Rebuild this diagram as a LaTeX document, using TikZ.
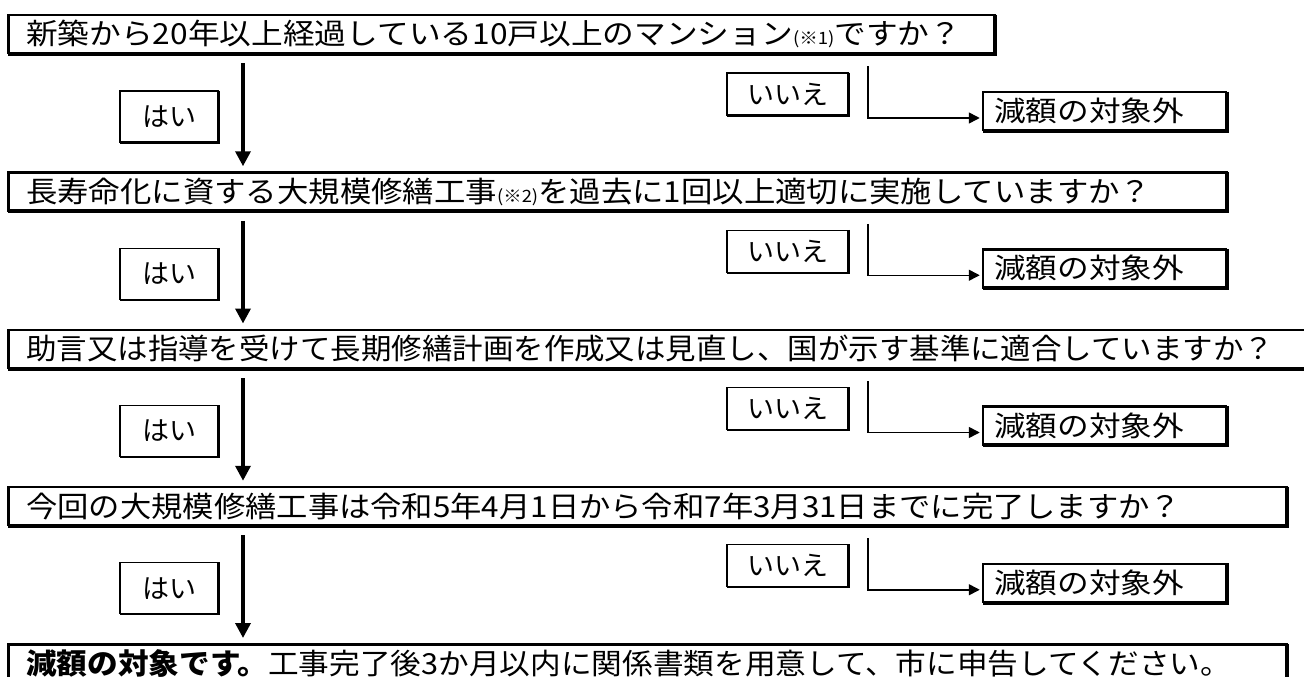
\documentclass[tikz,border=0pt]{standalone}
\usepackage{fontspec}
\setmainfont{Noto Sans CJK JP}
\usepackage{graphicx}
\usetikzlibrary{arrows.meta}
\tikzset{
  mainbox/.style={draw, line width=2.5pt, fill=white, rectangle, anchor=north west,
    minimum height=38pt, inner sep=0pt},
  maintext/.style={anchor=west, inner sep=0pt, font=\fontsize{29}{29}\selectfont},
  ansbox/.style={draw, line width=1.3pt, fill=white, rectangle, inner sep=0pt,
    font=\fontsize{27}{27}\selectfont},
  yesbox/.style={ansbox, minimum width=98pt, minimum height=51pt},
  nobox/.style={ansbox, minimum width=121pt, minimum height=42pt},
  outbox/.style={draw, line width=2.5pt, fill=white, rectangle, minimum width=243pt,
    minimum height=38pt, inner sep=0pt, font=\fontsize{28}{28}\selectfont},
  yesarrow/.style={line width=3.5pt, -{Triangle[length=15pt,width=15pt]},
    shorten <=9pt, shorten >=5pt},
  noline/.style={line width=1.5pt, -{Triangle[length=11pt,width=11pt]},
    shorten <=12pt, shorten >=2pt},
  shadowline/.style={line width=1.5pt},
  thinshadow/.style={line width=0.7pt},
}
\newcommand{\smallnote}[1]{{\fontsize{17}{17}\selectfont #1}}
\newcommand{\outtext}{\makebox[221pt][l]{\resizebox{190pt}{\height}{減額の対象外}}}
\begin{document}
\begin{tikzpicture}[x=1pt,y=-1pt]
\useasboundingbox (0,0) rectangle (1304,677);

% main question boxes
\node[mainbox, minimum width=986pt] (q1) at (7,14) {};
\node[mainbox, minimum width=1218pt] (q2) at (7,171.25) {};
\node[mainbox, minimum width=1303pt] (q3) at (7,328.5) {};
\node[mainbox, minimum width=1278pt] (q4) at (7,485.75) {};
\node[mainbox, minimum width=1278pt] (q5) at (7,643) {};

\node[maintext] (t1) at ([xshift=19pt]q1.west) {\resizebox{935pt}{\height}{新築から20年以上経過している10戸以上のマンション\smallnote{(※1)}ですか？}};
\node[maintext] (t2) at ([xshift=19pt]q2.west) {\resizebox{1125pt}{\height}{長寿命化に資する大規模修繕工事\smallnote{(※2)}を過去に1回以上適切に実施していますか？}};
\node[maintext] (t3) at ([xshift=19pt]q3.west) {\resizebox{1248pt}{\height}{助言又は指導を受けて長期修繕計画を作成又は見直し、国が示す基準に適合していますか？}};
\node[maintext] (t4) at ([xshift=19pt]q4.west) {\resizebox{1155pt}{\height}{今回の大規模修繕工事は令和5年4月1日から令和7年3月31日までに完了しますか？}};
\node[maintext] (t5) at ([xshift=19pt]q5.west) {\resizebox{1205pt}{\height}{{\bfseries 減額の対象です。}工事完了後3か月以内に関係書類を用意して、市に申告してください。}};

% answer labels
\node[yesbox] (y1) at (169,116.5) {はい};
\node[yesbox] (y2) at (169,273.75) {はい};
\node[yesbox] (y3) at (169,431) {はい};
\node[yesbox] (y4) at (169,588.25) {はい};
\node[nobox] (n1) at (787.5,94) {いいえ};
\node[nobox] (n2) at (787.5,251.25) {いいえ};
\node[nobox] (n3) at (787.5,408.5) {いいえ};
\node[nobox] (n4) at (787.5,565.75) {いいえ};

% outcome boxes
\node[outbox] (r1) at (1104.5,111) {\outtext};
\node[outbox] (r2) at (1104.5,268.25) {\outtext};
\node[outbox] (r3) at (1104.5,425.5) {\outtext};
\node[outbox] (r4) at (1104.5,582.75) {\outtext};

% shadows (thicker right and bottom edges)
\foreach \n in {q1,q2,q3,q4,q5,r1,r2,r3,r4}{
  \draw[shadowline] ([shift={(0.75pt,-0.75pt)}]\n.north east)
    -- ([shift={(0.75pt,-0.75pt)}]\n.south east)
    -- ([shift={(0.75pt,-0.75pt)}]\n.south west);
}
\foreach \n in {y1,y2,y3,y4,n1,n2,n3,n4}{
  \draw[thinshadow] ([shift={(0.3pt,-0.3pt)}]\n.north east)
    -- ([shift={(0.3pt,-0.3pt)}]\n.south east)
    -- ([shift={(0.3pt,-0.3pt)}]\n.south west);
}

% yes arrows
\coordinate (ax) at (243,0);
\draw[yesarrow] (q1.south -| ax) -- (q2.north -| ax);
\draw[yesarrow] (q2.south -| ax) -- (q3.north -| ax);
\draw[yesarrow] (q3.south -| ax) -- (q4.north -| ax);
\draw[yesarrow] (q4.south -| ax) -- (q5.north -| ax);

% no branches
\coordinate (e1) at (868,118);
\coordinate (e2) at (868,275.25);
\coordinate (e3) at (868,432.5);
\coordinate (e4) at (868,589.75);
\draw[noline] (q1.south -| e1) -- (e1) -- (e1 -| r1.west);
\draw[noline] (q2.south -| e2) -- (e2) -- (e2 -| r2.west);
\draw[noline] (q3.south -| e3) -- (e3) -- (e3 -| r3.west);
\draw[noline] (q4.south -| e4) -- (e4) -- (e4 -| r4.west);
\end{tikzpicture}
\end{document}
